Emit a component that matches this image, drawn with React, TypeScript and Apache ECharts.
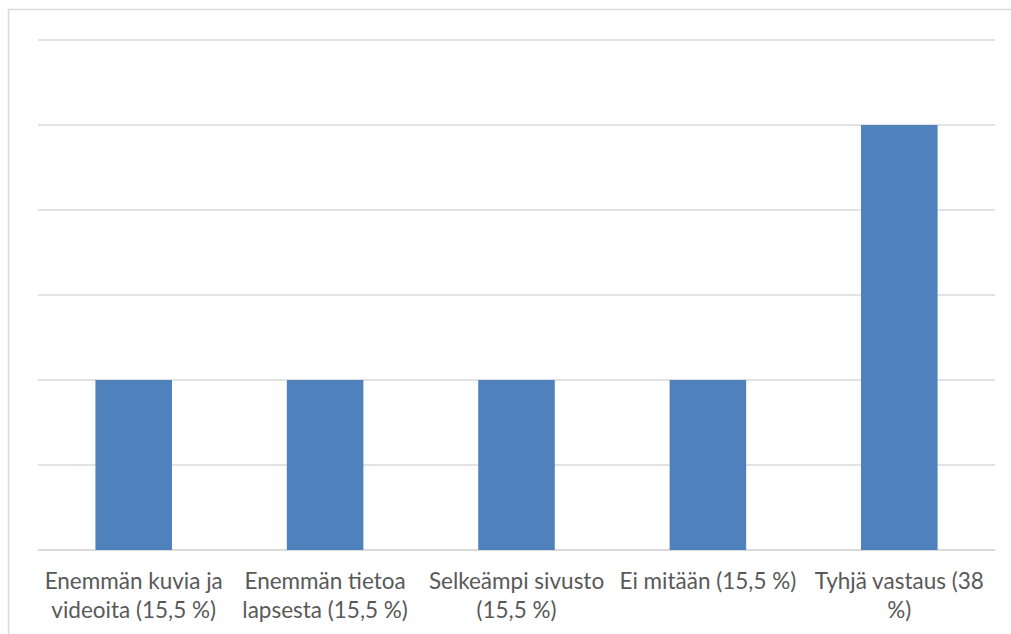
import React, { useEffect, useRef } from "react";
import * as echarts from "echarts";

const categories = [
  "Enemmän kuvia ja\nvideoita (15,5 %)",
  "Enemmän tietoa\nlapsesta (15,5 %)",
  "Selkeämpi sivusto\n(15,5 %)",
  "Ei mitään (15,5 %)",
  "Tyhjä vastaus (38\n%)",
];
const values = [2, 2, 2, 2, 5];

export default function App() {
  const ref = useRef<HTMLDivElement>(null);
  useEffect(() => {
    const chart = echarts.init(ref.current!, null, { renderer: "svg" });
    chart.setOption({
      animation: false,
      graphic: [
        {
          type: "rect",
          shape: { x: 8.5, y: 9.5, width: 1010, height: 640 },
          style: { fill: "none", stroke: "#d9d9d9", lineWidth: 1.5 },
          silent: true,
        },
      ],
      grid: { left: 38, right: 16, top: 40, bottom: 84, containLabel: false },
      xAxis: {
        type: "category",
        data: categories,
        axisLine: { lineStyle: { color: "#d9d9d9", width: 1.5 } },
        axisTick: { show: false },
        axisLabel: {
          color: "#595959",
          fontFamily: "Lato",
          fontSize: 22.5,
          lineHeight: 29,
          margin: 16,
          interval: 0,
        },
      },
      yAxis: {
        type: "value",
        min: 0,
        max: 6,
        interval: 1,
        axisLabel: { show: false },
        axisLine: { show: false },
        axisTick: { show: false },
        splitLine: { lineStyle: { color: "#d9d9d9", width: 1.5 } },
      },
      series: [
        {
          type: "bar",
          data: values,
          barWidth: "40%",
          itemStyle: { color: "#4f81bd" },
        },
      ],
    });
    return () => chart.dispose();
  }, []);
  return <div ref={ref} style={{ width: 1011, height: 634, position: "absolute", left: 0, top: 0 }} />;
}
